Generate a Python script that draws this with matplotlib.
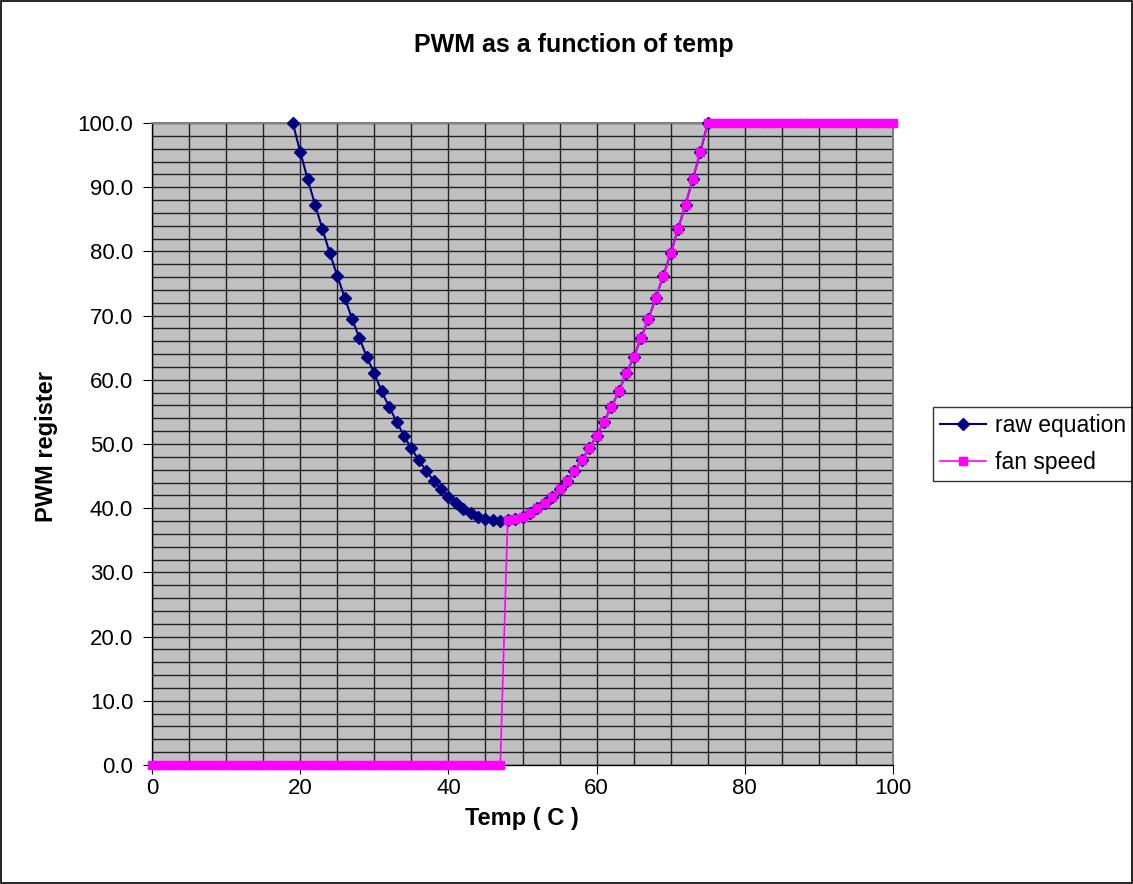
import matplotlib
matplotlib.use("Agg")
import matplotlib.pyplot as plt
from matplotlib.patches import Rectangle
from matplotlib.ticker import MultipleLocator

plt.rcParams["font.family"] = ["Liberation Sans", "DejaVu Sans"]

# raw equation (temp in C, PWM register)
raw_temp = list(range(19, 76))
raw_pwm = [100.0, 95.5, 91.3, 87.3, 83.5, 79.7, 76.2, 72.8, 69.5, 66.5,
           63.5, 61.0, 58.2, 55.8, 53.5, 51.3, 49.3, 47.5, 45.8, 44.3,
           43.0, 41.8, 40.8, 39.9, 39.2, 38.7, 38.3, 38.1, 38.0,
           38.1, 38.3, 38.7, 39.2, 40.0, 40.8, 41.8, 43.0, 44.3, 45.8,
           47.5, 49.3, 51.3, 53.5, 55.8, 58.2, 61.0, 63.5, 66.5, 69.5,
           72.8, 76.2, 79.7, 83.5, 87.3, 91.3, 95.5, 100.0]

# fan speed: off below 48 C, follows the curve, then clamps at 100
fan_temp = list(range(0, 101))
fan_pwm = ([0.0] * 48
           + [38.1, 38.3, 38.7, 39.2, 40.0, 40.8, 41.8, 43.0, 44.3, 45.8,
              47.5, 49.3, 51.3, 53.5, 55.8, 58.2, 61.0, 63.5, 66.5, 69.5,
              72.8, 76.2, 79.7, 83.5, 87.3, 91.3, 95.5]
           + [100.0] * 26)

W, H = 1133, 884
fig = plt.figure(figsize=(W / 100, H / 100), dpi=100)
ax = fig.add_axes([152 / W, 1 - 765 / H, (893 - 152) / W, (765 - 123) / H])
ax.set_facecolor("#C0C0C0")

ax.plot(raw_temp, raw_pwm, color="#000080", lw=1.5, marker="D",
        markersize=6.5, label="raw equation", clip_on=False, zorder=3)
ax.plot(fan_temp, fan_pwm, color="#FF00FF", lw=1.2, marker="s",
        markersize=6, label="fan speed", clip_on=False, zorder=4)

ax.set_xlim(0, 100)
ax.set_ylim(0, 100)
ax.xaxis.set_major_locator(MultipleLocator(20))
ax.yaxis.set_major_locator(MultipleLocator(10))
ax.xaxis.set_minor_locator(MultipleLocator(5))
ax.yaxis.set_minor_locator(MultipleLocator(2))
ax.yaxis.set_major_formatter(lambda v, p: f"{v:.1f}")
ax.grid(True, which="both", color="#202020", lw=1.0)
ax.set_axisbelow(True)
ax.tick_params(which="major", direction="out", length=6.5, labelsize=16)
ax.tick_params(axis="y", pad=7)
ax.tick_params(axis="x", pad=3)
ax.tick_params(which="minor", length=0)

for s in ("top", "right"):
    ax.spines[s].set_color("#808080")
    ax.spines[s].set_linewidth(1.5)
for s in ("left", "bottom"):
    ax.spines[s].set_color("black")
    ax.spines[s].set_linewidth(1.0)

fig.text(522 / W, 1 - 818 / H, "Temp ( C )", ha="center", va="center",
         fontsize=17, fontweight="bold")
fig.text(47 / W, 1 - 446 / H, "PWM register", ha="center", va="center",
         rotation=90, fontsize=17, fontweight="bold")
fig.text(574 / W, 1 - 45 / H, "PWM as a function of temp", ha="center",
         va="center", fontsize=18, fontweight="bold")

leg = ax.legend(loc="center left", bbox_to_anchor=(1.054, 0.5), fontsize=16.5,
                frameon=True, fancybox=False, edgecolor="black",
                borderpad=0.3, handlelength=2.0, labelspacing=0.65,
                handletextpad=0.4, borderaxespad=0)
leg.get_frame().set_linewidth(1.0)

fig.patches.append(Rectangle((0.001, 0.001), 0.998, 0.998, transform=fig.transFigure,
                             fill=False, edgecolor="black", lw=1.2))

fig.savefig("out.png", dpi=100)
